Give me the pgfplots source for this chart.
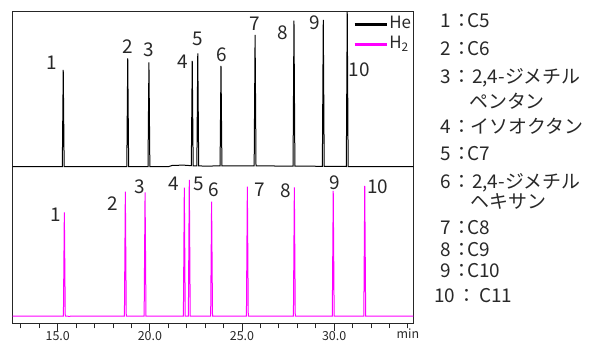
\documentclass[border=0pt]{standalone}
\usepackage{fontspec}
\setmainfont{Noto Sans CJK JP}
\usepackage{pgfplots}
\pgfplotsset{compat=1.18}
\definecolor{mag}{RGB}{255,0,255}
\definecolor{txt}{RGB}{40,40,40}
\begin{document}
\begin{tikzpicture}[x=1bp,y=1bp]
\useasboundingbox (0,0) rectangle (602,342);
\begin{axis}[
  at={(12.7bp,18.7bp)}, anchor=south west,
  scale only axis, width=400.6bp, height=312.3bp,
  xmin=12.558, xmax=34.295, ymin=0, ymax=312.3,
  clip=false,
  ytick=\empty,
  xtick={15,20,25,30},
  xticklabels={15.0,20.0,25.0,30.0},
  minor xtick={13,...,34},
  extra x ticks={34},
  extra x tick labels={min},
  extra x tick style={major tick length=5bp},
  major tick length=8bp, minor tick length=5bp,
  tick align=outside,
  xtick pos=bottom,
  tick style={black!85, line width=0.8bp},
  axis line style={black!85, line width=0.9bp},
  /pgf/number format/assume math mode=true,
  xticklabel style={font=\fontsize{12.5}{13}\selectfont, text=txt, inner sep=0pt, yshift=0bp},
  legend style={draw=none, fill=none, at={(1,1)}, anchor=north east, xshift=-1bp, yshift=-4bp,
    font=\fontsize{17}{17}\selectfont, text=txt, inner sep=0pt, row sep=2bp,
    nodes={inner sep=1bp, text height=12.5bp, text depth=3.5bp}},
  legend cell align=left,
  legend image code/.code={\draw[#1, line width=3.3bp] (0bp,0bp) -- (32bp,0bp);},
]
\addplot[black, line width=1bp] coordinates {
(12.56,156.6) (15.25,156.6) (15.30,253.3) (15.35,156.6)
(18.75,156.6) (18.80,265) (18.85,156.6)
(19.90,156.6) (19.95,261) (20.00,156.6)
(21.00,156.6) (21.20,157.8) (21.80,158.2) (22.10,157.8)
(22.25,157.6) (22.30,262.3) (22.35,157.4)
(22.55,157.4) (22.60,270) (22.65,157.4)
(23.00,157.2) (23.81,157.4) (23.86,257.3) (23.91,157.4)
(25.66,157.4) (25.71,288.3) (25.76,157.4)
(27.77,157.2) (27.82,302.6) (27.87,157.2)
(29.36,157.0) (29.41,303.3) (29.46,157.0)
(30.66,156.8) (30.71,311.3) (30.76,156.8)
(34.295,156.8)
};
\addlegendentry{He}
\addplot[mag, line width=1bp] coordinates {
(12.56,7.3) (15.31,7.3) (15.36,111) (15.41,7.3)
(15.60,7.0) (16.00,7.3)
(18.62,7.3) (18.67,131.6) (18.72,7.3)
(19.69,7.3) (19.74,131) (19.79,7.3)
(21.82,7.3) (21.87,135.6) (21.92,7.3)
(22.09,7.3) (22.14,143.3) (22.19,7.3)
(23.30,7.3) (23.35,121.6) (23.40,7.3)
(25.24,7.3) (25.29,136.6) (25.34,7.3)
(27.79,7.3) (27.84,136) (27.89,7.3)
(29.90,7.3) (29.95,132.3) (30.00,7.3)
(31.61,7.3) (31.66,137.3) (31.71,7.3)
(34.295,7.3)
};
\addlegendentry{H\textsubscript{2}}
% peak labels, He
\begin{scope}[every node/.style={font=\fontsize{19}{19}\selectfont, text=txt, inner sep=0pt}]
\node at (axis cs:14.67,261) {1};
\node at (axis cs:18.80,276.6) {2};
\node at (axis cs:19.95,273.3) {3};
\node at (axis cs:21.81,261.3) {4};
\node at (axis cs:22.61,284.3) {5};
\node at (axis cs:23.90,268.3) {6};
\node at (axis cs:25.71,300) {7};
\node at (axis cs:27.21,290.6) {8};
\node at (axis cs:28.96,300.6) {9};
\node at (axis cs:31.36,253.3) {10};
% peak labels, H2
\node at (axis cs:14.91,108.3) {1};
\node at (axis cs:17.98,120) {2};
\node at (axis cs:19.43,136.6) {3};
\node at (axis cs:21.27,139.3) {4};
\node at (axis cs:22.68,139.3) {5};
\node at (axis cs:23.48,133.3) {6};
\node at (axis cs:25.98,133.3) {7};
\node at (axis cs:27.37,132.6) {8};
\node at (axis cs:30.05,140.6) {9};
\node at (axis cs:32.36,136.6) {10};
\end{scope}
\end{axis}
% compound list
\begin{scope}[every node/.style={font=\fontsize{19}{19}\selectfont, text=txt, inner sep=0pt}]
\node[anchor=base west] at (440,342-27.3) {1};
\node[anchor=base] at (462,342-27.3) {：};
\node[anchor=base west] at (467,342-27.3) {C5};
\node[anchor=base west] at (440,342-55) {2};
\node[anchor=base] at (462,342-55) {：};
\node[anchor=base west] at (467,342-55) {C6};
\node[anchor=base west] at (440,342-83.3) {3};
\node[anchor=base] at (462,342-83.3) {：};
\node[anchor=base west] at (472,342-83.3) {2,4-ジメチル};
\node[anchor=base west] at (469,342-108) {ペンタン};
\node[anchor=base west] at (440,342-133.3) {4};
\node[anchor=base] at (462,342-133.3) {：};
\node[anchor=base west] at (470.5,342-133.3) {イソオクタン};
\node[anchor=base west] at (440,342-160) {5};
\node[anchor=base] at (462,342-160) {：};
\node[anchor=base west] at (467,342-160) {C7};
\node[anchor=base west] at (440,342-188.3) {6};
\node[anchor=base] at (462,342-188.3) {：};
\node[anchor=base west] at (472,342-188.3) {2,4-ジメチル};
\node[anchor=base west] at (470.5,342-208) {ヘキサン};
\node[anchor=base west] at (440,342-234) {7};
\node[anchor=base] at (462,342-234) {：};
\node[anchor=base west] at (467,342-234) {C8};
\node[anchor=base west] at (440,342-256) {8};
\node[anchor=base] at (462,342-256) {：};
\node[anchor=base west] at (467,342-256) {C9};
\node[anchor=base west] at (440,342-277.3) {9};
\node[anchor=base] at (462,342-277.3) {：};
\node[anchor=base west] at (467,342-277.3) {C10};
\node[anchor=base west] at (434,342-302.7) {10};
\node[anchor=base] at (467,342-302.7) {：};
\node[anchor=base west] at (479,342-302.7) {C11};
\end{scope}
\end{tikzpicture}
\end{document}
